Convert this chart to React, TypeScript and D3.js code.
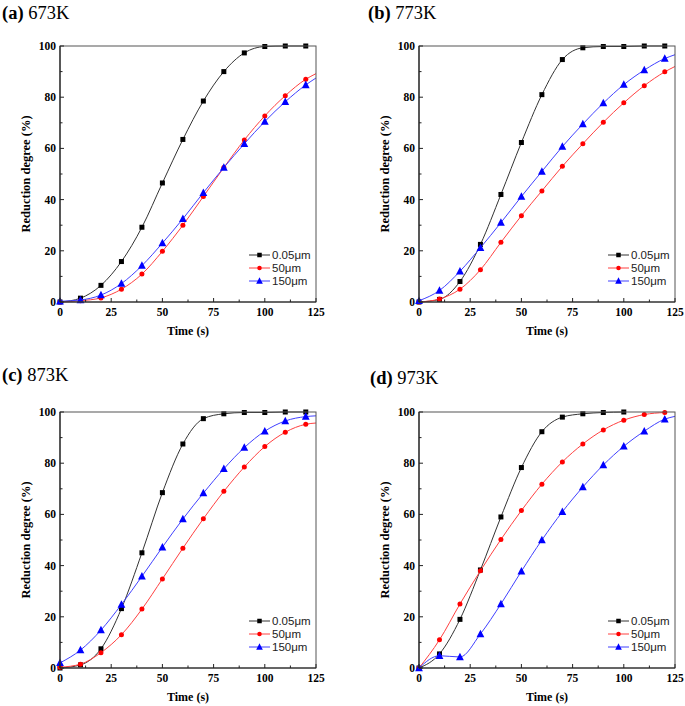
import React from "react";
import * as d3 from "d3";

// time points (s); last point (125) only continues the line, no marker
const TIMES = [0, 10, 20, 30, 40, 50, 60, 70, 80, 90, 100, 110, 120, 125];
const X_TICKS = [0, 25, 50, 75, 100, 125];
const Y_TICKS = [0, 20, 40, 60, 80, 100];
const SERIES_NAMES = ["0.05\u03bcm", "50\u03bcm", "150\u03bcm"];
const SERIES_COLORS = ["#000000", "#ff0000", "#0000ff"];
const LINE_COLORS = ["#333333", "#ff4040", "#4040ff"];
const PANEL_LABELS = ["(a)", "(b)", "(c)", "(d)"];
const PANEL_TEMPS = ["673K", "773K", "873K", "973K"];

// Panel (a) 673K
const a_black = [0, 1.5, 6.5, 15.8, 29.2, 46.5, 63.5, 78.5, 90, 97.3, 99.8, 100, 100, null];
const a_red = [0, 0.5, 1.6, 5, 10.9, 19.8, 30, 41.2, 52.5, 63.3, 72.7, 80.6, 87, 89.2];
const a_blue = [0.3, 0.8, 2.7, 7.2, 14.2, 23, 32.5, 42.7, 52.5, 61.8, 70.5, 78.2, 84.8, 87.5];
// Panel (b) 773K
const b_black = [0, 1, 8, 22.5, 42, 62.3, 81, 94.7, 99.3, 99.8, 99.8, 100, 100, null];
const b_red = [0, 1.2, 5, 12.6, 23.3, 33.7, 43.4, 53, 61.8, 70.2, 77.8, 84.5, 89.9, 92];
const b_blue = [0.5, 4.5, 12, 21.2, 31, 41.2, 51, 60.7, 69.5, 77.7, 84.9, 90.6, 95.1, 96.6];
// Panel (c) 873K
const c_black = [0, 1.2, 7.5, 23.2, 45, 68.5, 87.5, 97.4, 99.3, 99.8, 99.8, 100, 100, null];
const c_red = [0.3, 1.5, 6, 13, 23, 34.8, 46.8, 58.3, 69, 78.5, 86.5, 92.1, 95.2, 95.7];
const c_blue = [2, 7, 14.8, 24.8, 35.8, 47.2, 58.2, 68.3, 77.8, 86.1, 92.5, 96.5, 98.2, 98.5];
// Panel (d) 973K
const d_black = [0, 5.5, 19, 38.3, 59, 78.3, 92.3, 98, 99.3, 99.8, 100, null, null, null];
const d_red = [0, 11, 25, 38, 50.2, 61.5, 71.8, 80.5, 87.5, 93, 96.8, 99, 99.8, null];
const d_blue = [0, 4.8, 4.3, 13.3, 25, 37.8, 50, 61, 70.7, 79.3, 86.6, 92.5, 97.2, 98.3];

const PANEL_DATA = [
  [a_black, a_red, a_blue],
  [b_black, b_red, b_blue],
  [c_black, c_red, c_blue],
  [d_black, d_red, d_blue],
];

// layout
const PANELS = [
  { left: 60, right: 316, top: 46, bottom: 302, tx: 2, ty: 19 },
  { left: 419, right: 675, top: 46, bottom: 302, tx: 368, ty: 19 },
  { left: 60, right: 316, top: 412, bottom: 668, tx: 2, ty: 381 },
  { left: 419, right: 675, top: 412, bottom: 668, tx: 370, ty: 384 },
];

const SERIF = "'Liberation Serif', 'Times New Roman', serif";
const SANS = "'Liberation Sans', Arial, sans-serif";

function Marker({ kind, x, y, color, s }: { kind: number; x: number; y: number; color: string; s: number }) {
  if (kind === 0) return <rect x={x - s / 2} y={y - s / 2} width={s} height={s} fill={color} />;
  if (kind === 1) return <circle cx={x} cy={y} r={s / 2} fill={color} />;
  const h = s * 1.1;
  const pts = [
    [x, y - h * 0.6],
    [x - s * 0.6, y + h * 0.45],
    [x + s * 0.6, y + h * 0.45],
  ];
  return <polygon points={pts.map((p) => p.join(",")).join(" ")} fill={color} />;
}

function Panel({ idx }: { idx: number }) {
  const p = PANELS[idx];
  const x = d3.scaleLinear().domain([0, 125]).range([p.left, p.right]);
  const y = d3.scaleLinear().domain([0, 100]).range([p.bottom, p.top]);
  const series = PANEL_DATA[idx];
  const line = d3
    .line<[number, number]>()
    .x((d) => x(d[0]))
    .y((d) => y(d[1]))
    .curve(d3.curveMonotoneX);
  const xMinor = d3.range(0, 125.01, 12.5);
  const yMinor = d3.range(0, 100.01, 10);
  const cx = (p.left + p.right) / 2;
  const cy = (p.top + p.bottom) / 2;
  const legX = p.right - 67;
  const legRows = [p.bottom - 47, p.bottom - 34, p.bottom - 21];
  return (
    <g>
      <text x={p.tx} y={p.ty} fontFamily={SERIF} fontSize={18.5} fill="#000">
        <tspan fontWeight="bold">{PANEL_LABELS[idx]}</tspan>
        <tspan> {PANEL_TEMPS[idx]}</tspan>
      </text>
      <clipPath id={`clip${idx}`}>
        <rect x={p.left} y={p.top - 4} width={p.right - p.left} height={p.bottom - p.top + 8} />
      </clipPath>
      {series.map((vals, si) => {
        const pts = TIMES.map((t, i) => [t, vals[i]] as [number, number | null]).filter(
          (d) => d[1] !== null
        ) as [number, number][];
        return (
          <g key={si}>
            <path d={line(pts) || ""} fill="none" stroke={LINE_COLORS[si]} strokeWidth={1} clipPath={`url(#clip${idx})`} />
            {pts
              .filter((d) => d[0] <= 120)
              .map((d, i) => (
                <Marker key={i} kind={si} x={x(d[0])} y={y(d[1])} color={SERIES_COLORS[si]} s={si === 2 ? 6.5 : 5} />
              ))}
          </g>
        );
      })}
      {/* frame */}
      <rect x={p.left} y={p.top} width={p.right - p.left} height={p.bottom - p.top} fill="none" stroke="#555" strokeWidth={1} />
      <line x1={p.left} x2={p.left} y1={p.top} y2={p.bottom} stroke="#222" strokeWidth={1.2} />
      <line x1={p.left} x2={p.right} y1={p.bottom} y2={p.bottom} stroke="#222" strokeWidth={1.2} />
      {/* ticks */}
      {xMinor.map((t, i) => (
        <line key={"xt" + i} x1={x(t)} x2={x(t)} y1={p.bottom} y2={p.bottom - (i % 2 === 0 ? 4 : 2.5)} stroke="#222" />
      ))}
      {yMinor.map((v, i) => (
        <line key={"yt" + i} x1={p.left} x2={p.left + (i % 2 === 0 ? 4 : 2.5)} y1={y(v)} y2={y(v)} stroke="#222" />
      ))}
      {X_TICKS.map((t) => (
        <text key={"xl" + t} x={x(t)} y={p.bottom + 14} textAnchor="middle" fontFamily={SERIF} fontWeight="bold" fontSize={11.5}>
          {t}
        </text>
      ))}
      {Y_TICKS.map((v) => (
        <text key={"yl" + v} x={p.left - 4} y={y(v) + 4} textAnchor="end" fontFamily={SERIF} fontWeight="bold" fontSize={11.5}>
          {v}
        </text>
      ))}
      <text
        x={p.left - 33}
        y={cy}
        transform={`rotate(-90 ${p.left - 33} ${cy})`}
        textAnchor="middle"
        dominantBaseline="middle"
        fontFamily={SERIF}
        fontWeight="bold"
        fontSize={12.5}
      >
        Reduction degree (%)
      </text>
      <text x={cx} y={p.bottom + 33} textAnchor="middle" fontFamily={SERIF} fontWeight="bold" fontSize={12}>
        Time (s)
      </text>
      {/* legend */}
      {SERIES_NAMES.map((name, si) => (
        <g key={"lg" + si}>
          <line x1={legX} x2={legX + 21} y1={legRows[si]} y2={legRows[si]} stroke={LINE_COLORS[si]} strokeWidth={1} />
          <Marker kind={si} x={legX + 10.5} y={legRows[si]} color={SERIES_COLORS[si]} s={si === 2 ? 5.5 : 4.5} />
          <text x={legX + 23} y={legRows[si] + 4} fontFamily={SANS} fontSize={11.5} fill="#222">
            {name}
          </text>
        </g>
      ))}
    </g>
  );
}

export default function App() {
  return (
    <div style={{ position: "absolute", left: 0, top: 0 }}>
      <svg width={685} height={706} style={{ display: "block", background: "#fff" }}>
        {[0, 1, 2, 3].map((i) => (
          <Panel key={i} idx={i} />
        ))}
      </svg>
    </div>
  );
}
